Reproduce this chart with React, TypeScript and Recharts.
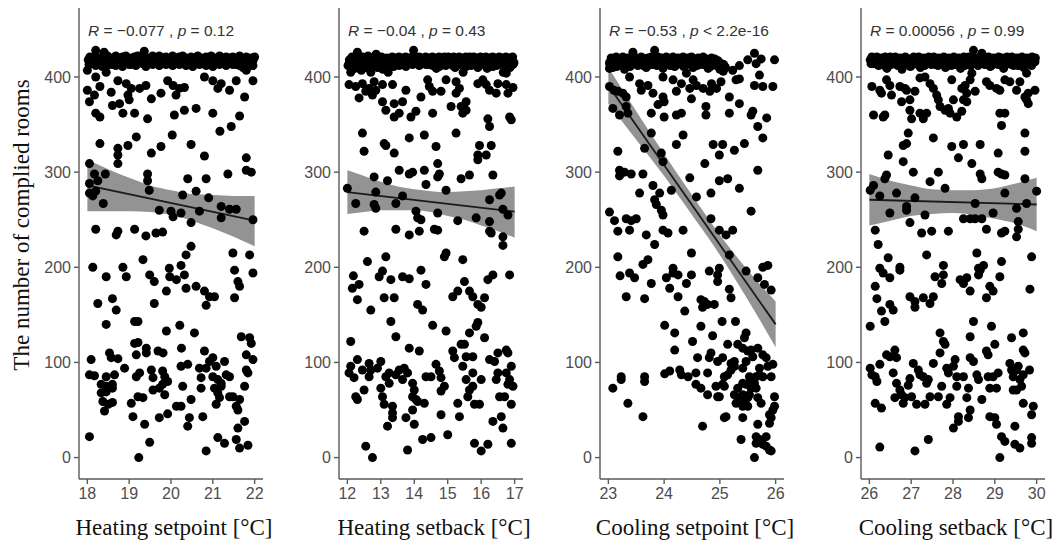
import { ComposedChart, Scatter, Line, Area, XAxis, YAxis } from "recharts";

type Pt = [number, number];
type BandPt = [number, number, number];

const yDomain: [number, number] = [-22.5, 472.5];
const yTicks = [0, 100, 200, 300, 400];
const yTitle = "The number of complied rooms";

// ---- Heating setpoint ----
const hsTicks = [18, 19, 20, 21, 22];
const hsPoints: Pt[] = [
  [18.02,418],[18.06,421],[18.1,415],[18.14,419],[18.18,422],[18.2,428],[18.24,417],[18.28,420],[18.32,414],[18.36,421],
  [18.4,426],[18.44,418],[18.48,422],[18.52,416],[18.56,420],[18.6,413],[18.64,419],[18.68,422],[18.72,417],[18.76,420],
  [18.8,415],[18.84,421],[18.88,418],[18.92,422],[18.96,416],[19.0,420],[19.04,413],[19.08,419],[19.12,421],[19.16,417],
  [19.2,422],[19.24,415],[19.28,419],[19.32,421],[19.36,427],[19.4,417],[19.44,420],[19.48,414],[19.52,419],[19.56,422],
  [19.6,416],[19.64,420],[19.68,418],[19.72,422],[19.76,415],[19.8,420],[19.84,417],[19.88,421],[19.92,419],[19.96,414],
  [20.0,420],[20.04,422],[20.08,417],[20.12,420],[20.16,415],[20.2,421],[20.24,418],[20.28,422],[20.32,416],[20.36,420],
  [20.4,413],[20.44,419],[20.48,421],[20.52,417],[20.56,420],[20.6,415],[20.64,422],[20.68,418],[20.72,420],[20.76,414],
  [20.8,419],[20.84,421],[20.88,416],[20.92,420],[20.96,422],[21.0,417],[21.04,420],[21.08,414],[21.12,419],[21.16,422],
  [21.2,416],[21.24,420],[21.28,418],[21.32,421],[21.36,415],[21.4,420],[21.44,417],[21.48,421],[21.52,419],[21.56,413],
  [21.6,420],[21.64,422],[21.68,416],[21.72,410],[21.76,419],[21.8,421],[21.84,416],[21.88,412],[21.92,420],[21.96,417],[22.0,421],
  [18.04,413],[18.12,416],[18.2,412],[18.28,415],[18.36,411],[18.44,416],[18.52,413],[18.6,417],[18.68,412],[18.76,415],
  [18.84,411],[18.92,416],[19.0,413],[19.08,417],[19.16,412],[19.24,416],[19.32,414],[19.4,411],[19.48,417],[19.56,413],
  [19.64,415],[19.72,412],[19.8,416],[19.88,413],[19.96,417],[20.04,412],[20.12,415],[20.2,413],[20.28,417],[20.36,412],
  [20.44,415],[20.52,411],[20.6,416],[20.68,413],[20.76,417],[20.84,412],[20.92,415],[21.0,411],[21.08,416],[21.16,413],
  [21.24,415],[21.32,412],[21.4,416],[21.48,413],[21.56,417],[21.64,412],[21.72,415],[21.8,413],[21.88,416],[21.96,412],
  [18.0,407],[18.2,400],[18.45,405],[18.3,390],[18.0,386],[18.17,381],[18.05,374],[18.57,384],[18.73,396],[18.93,393],
  [19.05,388],[18.97,381],[19.0,376],[18.77,372],[18.6,370],[19.13,362],[18.85,362],[18.2,362],[18.3,358],[19.25,388],
  [19.4,391],[19.53,377],[19.44,356],[19.92,396],[20.05,391],[20.2,388],[20.32,389],[20.12,381],[19.76,383],[20.08,360],
  [20.32,365],[20.6,367],[20.8,400],[21.0,396],[21.2,393],[21.12,388],[21.4,386],[21.56,396],[21.8,407],[21.96,396],
  [21.76,379],[21.0,362],[21.44,348],[21.17,343],[21.64,359],
  [18.3,330],[18.73,325],[18.97,328],[18.73,318],[18.73,309],[19.17,337],[19.53,320],[19.76,327],[20.03,339],[20.48,329],
  [20.8,317],[21.8,315],[18.05,309],[18.17,298],[18.43,298],[18.05,288],[18.25,291],[19.44,298],[19.44,291],[20.4,293],
  [20.84,293],[21.36,298],[21.8,302],[21.92,300],
  [18.05,278],[18.2,280],[18.13,275],[18.38,267],[19.48,281],[20.28,276],[20.6,280],[20.9,273],[19.72,260],[20.0,259],
  [20.05,253],[20.24,257],[20.68,259],[21.2,264],[21.4,261],[21.56,261],[21.2,252],[21.96,250],[20.48,247],[18.2,240],
  [18.73,238],[18.69,234],[19.13,240],[19.4,233],[19.8,237],[19.64,236],[20.48,222],[20.36,213],[21.48,215],[21.88,213],
  [18.13,200],[18.85,200],[19.33,208],[19.96,199],[20.24,202],
  [18.45,190],[18.93,190],[19.49,192],[19.6,185],[19.97,190],[20.13,187],[20.32,192],[20.36,178],[19.89,175],[20.6,180],
  [20.8,175],[20.92,169],[21.04,169],[20.84,160],[21.6,185],[21.64,180],[21.52,168],[21.96,194],[21.52,197],[19.6,162],
  [18.25,162],[18.6,167],[18.69,155],[18.45,140],[19.13,143],[19.21,143],[20.21,139],[20.56,131],[19.89,133],[19.13,120],
  [19.21,121],[20.25,115],[19.41,115],[19.41,110],[19.69,112],[19.81,110],[21.68,127],[21.88,126],[21.92,120],[18.09,103],
  [18.53,110],[18.57,105],[18.73,104],[19.17,108],[18.05,87],[18.17,86],[18.33,77],[18.45,75],[18.6,77],[18.45,85],
  [18.65,87],[18.89,94],[19.17,85],[19.25,89],[19.53,92],[19.57,84],[19.8,91],[19.85,85],[19.92,80],[19.8,77],
  [19.85,66],[19.72,73],[19.57,71],[19.33,63],[19.21,64],[18.37,59],[18.5,56],[18.6,58],[18.41,49],[18.33,68],
  [18.45,69],[18.6,73],[19.05,57],[19.09,43],[19.37,35],[19.49,16],[19.72,42],[19.92,46],[20.13,54],[20.24,54],
  [20.24,96],[20.4,98],[20.28,75],[20.48,61],[20.44,42],[20.4,33],[20.68,94],[20.72,84],[20.72,73],[20.84,94],
  [20.8,112],[20.92,101],[21.0,105],[21.08,96],[21.0,85],[21.12,82],[21.04,73],[21.2,78],[21.28,101],[21.32,87],
  [21.4,85],[21.2,75],[21.12,68],[21.16,63],[21.08,56],[21.48,64],[21.4,64],[21.64,61],[21.56,54],[21.6,50],
  [21.76,75],[21.8,92],[21.84,89],[21.8,108],[21.96,103],[21.76,38],[21.6,31],[21.56,19],[21.64,10],[21.84,13],
  [21.12,21],[21.28,15],[20.84,7],[19.23,0],[18.05,22],[20.76,43],
];
const hsBand: BandPt[] = [
  [18,259,313],[18.5,259,303],[19,259,294],[19.5,258,286],[20,255,281],
  [20.5,249,277],[21,241,276],[21.5,232,275],[22,222,275],
];
const hsFit: Pt[] = [[18, 286], [22, 249]];

// ---- Heating setback ----
const hbTicks = [12, 13, 14, 15, 16, 17];
const hbPoints: Pt[] = [
  [12.02,412],[12.06,418],[12.1,405],[12.14,421],[12.18,415],[12.22,409],[12.26,420],[12.3,426],[12.34,413],[12.38,418],
  [12.42,407],[12.46,421],[12.5,415],[12.54,419],[12.58,410],[12.62,422],[12.66,416],[12.7,405],[12.74,420],[12.78,413],
  [12.82,418],[12.86,424],[12.9,410],[12.94,419],[12.98,415],[13.02,421],[13.06,408],[13.1,418],[13.14,414],[13.18,420],
  [13.22,405],[13.26,419],[13.3,416],[13.34,421],[13.38,411],[13.42,418],[13.46,420],[13.5,415],[13.54,421],[13.58,417],
  [13.62,420],[13.66,414],[13.7,419],[13.74,421],[13.78,417],[13.82,420],[13.86,415],[13.9,419],[13.94,421],[13.98,428],
  [14.02,418],[14.06,420],[14.1,416],[14.14,421],[14.18,418],[14.22,420],[14.26,415],[14.3,419],[14.34,421],[14.38,417],
  [14.42,420],[14.46,413],[14.5,419],[14.54,421],[14.58,416],[14.62,420],[14.66,409],[14.7,419],[14.74,421],[14.78,415],
  [14.82,420],[14.86,418],[14.9,421],[14.94,412],[14.98,419],[15.02,421],[15.06,416],[15.1,420],[15.14,418],[15.18,421],
  [15.22,410],[15.26,419],[15.3,416],[15.34,421],[15.38,418],[15.42,420],[15.46,405],[15.5,418],[15.54,421],[15.58,416],
  [15.62,419],[15.66,421],[15.7,412],[15.74,418],[15.78,421],[15.82,416],[15.86,420],[15.9,410],[15.94,418],[15.98,421],
  [16.02,415],[16.06,420],[16.1,418],[16.14,421],[16.18,409],[16.22,418],[16.26,420],[16.3,415],[16.34,421],[16.38,418],
  [16.42,420],[16.46,412],[16.5,419],[16.54,421],[16.58,416],[16.62,420],[16.66,405],[16.7,418],[16.74,421],[16.78,415],
  [16.82,420],[16.86,410],[16.9,418],[16.94,421],[16.98,415],
  [12.05,414],[12.15,410],[12.25,416],[12.35,409],[12.45,414],[12.55,411],[12.65,417],[12.75,410],[12.85,415],[12.95,412],
  [13.05,416],[13.15,409],[13.25,414],[13.35,411],[13.45,416],[13.55,412],[13.65,417],[13.75,411],[13.85,415],[13.95,413],
  [14.05,416],[14.15,412],[14.25,417],[14.35,413],[14.45,416],[14.55,412],[14.65,415],[14.75,411],[14.85,416],[14.95,413],
  [15.05,417],[15.15,412],[15.25,415],[15.35,413],[15.45,416],[15.55,411],[15.65,415],[15.75,413],[15.85,416],[15.95,412],
  [16.05,415],[16.15,413],[16.25,416],[16.35,411],[16.45,415],[16.55,413],[16.65,416],[16.75,412],[16.85,415],[16.95,413],
  [12.05,392],[12.25,390],[12.35,378],[12.45,393],[12.55,385],[12.65,388],[12.75,381],[12.8,395],[12.85,386],[13.05,392],
  [13.05,374],[13.15,365],[13.35,392],[13.4,372],[13.4,358],[13.55,362],[13.65,374],[13.75,386],[13.9,358],[14.05,364],
  [14.2,379],[14.4,397],[14.45,390],[14.55,385],[14.55,362],[14.8,385],[14.95,397],[15.1,369],[15.25,395],[15.35,388],
  [15.4,369],[15.45,362],[15.55,365],[15.55,374],[15.25,383],[15.9,393],[16.05,397],[16.15,392],[16.25,386],[16.45,383],
  [16.5,393],[16.75,392],[16.8,383],[16.75,404],[16.95,389],[16.2,356],[16.25,348],[16.9,355],[16.85,358],
  [12.45,341],[13.1,330],[13.15,328],[13.4,320],[12.5,322],[13.85,336],[14.3,339],[14.65,327],[15.25,341],[15.95,328],
  [16.3,328],[16.15,318],[15.9,318],[15.9,313],[14.7,309],[12.8,295],[13.2,291],[13.55,302],[13.85,298],[13.95,300],
  [14.3,302],[14.75,298],[14.7,295],[15.4,293],[15.65,297],[16.35,297],
  [12.0,283],[12.25,267],[12.85,279],[12.8,266],[12.85,262],[13.45,267],[13.65,275],[14.35,287],[14.95,281],[14.05,259],
  [14.1,252],[14.2,250],[14.7,257],[15.3,249],[15.85,252],[16.25,271],[16.55,276],[16.6,278],[16.65,261],[16.8,255],
  [16.25,248],[16.25,238],[16.3,236],[16.65,232],[16.65,223],[12.5,238],[13.45,240],[13.85,234],[14.15,238],[14.6,240],
  [14.7,239],[14.95,215],[14.9,211],[15.45,208],[12.6,206],[13.15,211],
  [12.18,191],[12.15,178],[12.35,182],[12.3,166],[12.7,155],[12.95,190],[13.05,196],[13.3,187],[13.1,168],[13.4,168],
  [13.3,143],[13.45,127],[13.65,190],[13.85,188],[14.2,197],[14.35,182],[14.1,161],[14.25,155],[14.55,139],[14.95,133],
  [15.15,169],[15.3,175],[15.5,185],[15.65,175],[15.75,169],[15.9,161],[16.0,158],[16.1,168],[16.2,187],[16.35,192],
  [16.85,192],[15.9,142],[15.85,138],[15.65,131],[16.1,126],[12.1,122],[12.3,103],[12.05,89],[12.2,84],[12.1,96],
  [12.25,64],[12.3,61],[12.45,92],[12.5,71],[12.65,99],[12.65,85],[12.7,92],[12.9,94],[13.0,101],[13.0,73],
  [13.05,64],[13.15,85],[13.25,89],[13.1,56],[13.25,78],[13.35,54],[13.35,47],[13.35,42],[13.2,33],[13.45,87],
  [13.55,92],[13.65,82],[13.7,94],[13.8,89],[13.75,42],[13.8,8],[13.85,115],[13.95,78],[13.95,64],[14.0,71],
  [14.05,61],[13.95,50],[14.0,35],[14.15,112],[14.1,59],[14.3,57],[14.25,19],[14.35,85],[14.5,85],[14.5,21],
  [14.65,98],[14.75,91],[14.8,84],[14.8,70],[14.9,75],[14.8,45],[15.0,24],[15.15,112],[15.2,105],[15.3,57],
  [15.35,43],[15.4,119],[15.5,119],[15.45,96],[15.55,106],[15.75,106],[15.55,82],[15.6,64],[15.65,71],[15.75,75],
  [15.75,89],[15.8,56],[15.95,56],[15.8,15],[16.0,7],[16.2,14],[16.0,82],[16.25,103],[16.35,38],[16.4,101],
  [16.45,82],[16.5,110],[16.55,64],[16.5,89],[16.65,31],[16.6,43],[16.7,64],[16.75,113],[16.8,110],[16.75,89],
  [16.8,77],[16.85,82],[16.9,96],[16.95,75],[16.9,56],[16.9,15],[12.55,12],[12.75,0],
];
const hbBand: BandPt[] = [
  [12,256,302],[12.5,258,296],[13,260,290],[13.5,260,285],[14,260,282],[14.5,258,280],
  [15,254,279],[15.5,250,280],[16,244,281],[16.5,238,283],[17,231,285],
];
const hbFit: Pt[] = [[12, 279], [17, 258.5]];

// ---- Cooling setpoint ----
const csTicks = [23, 24, 25, 26];
const csPoints: Pt[] = [
  [23.02,415],[23.05,420],[23.08,410],[23.11,418],[23.14,421],[23.17,413],[23.2,419],[23.23,416],[23.26,421],[23.29,408],
  [23.32,418],[23.35,420],[23.38,414],[23.41,419],[23.44,426],[23.47,416],[23.5,420],[23.53,412],[23.56,418],[23.59,421],
  [23.62,415],[23.65,419],[23.68,410],[23.71,420],[23.74,417],[23.77,421],[23.8,413],[23.83,428],[23.86,418],[23.89,421],
  [23.92,415],[23.95,420],[23.98,409],[24.01,418],[24.04,421],[24.07,414],[24.1,419],[24.13,416],[24.16,421],[24.19,411],
  [24.22,418],[24.25,420],[24.28,415],[24.31,419],[24.34,421],[24.37,412],[24.4,418],[24.43,420],[24.46,416],[24.49,421],
  [24.52,410],[24.55,419],[24.58,416],[24.61,420],[24.64,413],[24.67,418],[24.7,421],[24.73,415],[24.76,419],[24.79,409],
  [24.82,418],[24.85,420],[24.88,414],[24.91,419],[24.94,412],[24.97,417],[25.0,408],[25.03,414],[25.06,406],[25.1,410],
  [23.03,413],[23.09,416],[23.15,411],[23.21,415],[23.27,413],[23.33,416],[23.39,411],[23.45,415],[23.51,413],[23.57,416],
  [23.63,412],[23.69,415],[23.75,413],[23.81,417],[23.87,412],[23.93,415],[23.99,413],[24.05,416],[24.11,412],[24.17,415],
  [24.23,413],[24.29,416],[24.35,411],[24.41,415],[24.47,413],[24.53,416],[24.59,412],[24.65,415],[24.71,413],[24.77,416],
  [24.83,411],[24.89,415],[24.95,413],[25.01,411],[25.07,413],
  [23.02,409],[23.02,390],[23.1,386],[23.17,385],[23.26,383],[23.32,379],[23.08,367],[23.2,360],[23.32,369],[23.35,362],
  [23.38,400],[23.56,393],[23.59,386],[23.71,391],[23.8,383],[23.98,379],[24.0,374],[23.89,371],[23.77,362],[24.0,358],
  [24.22,360],[24.31,362],[23.98,400],[24.16,397],[24.31,393],[24.46,388],[24.58,391],[24.7,388],[24.82,385],[24.94,388],
  [25.02,395],[24.85,393],[24.52,397],[24.4,404],[24.22,385],[24.49,377],[24.75,369],[24.75,360],[25.17,379],[25.17,362],
  [25.35,372],[25.29,397],[25.35,398],[25.23,407],[25.35,412],[25.5,418],[25.62,425],[25.65,414],[25.74,419],[25.71,402],
  [25.62,391],[25.77,390],[25.95,390],[25.98,418],[25.56,360],[25.59,364],[25.68,348],[25.84,357],[25.77,336],[25.44,330],
  [25.26,323],[24.88,329],[25.05,329],[24.99,318],[24.34,339],[24.22,329],[23.77,341],[23.65,325],[23.17,322],[23.95,320],
  [23.98,311],[24.73,309],[24.99,291],[25.14,293],[25.35,283],[25.68,302],[25.56,259],[23.2,302],[23.2,296],[23.29,300],
  [23.41,298],[23.62,298],[23.56,278],[23.8,286],[23.92,278],[24.13,281],[23.83,271],[23.86,266],[23.95,260],[23.98,255],
  [24.46,294],[24.58,274],[24.84,278],[23.02,258],[23.11,249],[23.32,251],[23.41,249],[23.5,251],[23.38,239],[23.17,238],
  [23.98,239],[24.07,236],[24.34,239],[23.68,234],[23.83,224],[24.84,251],[24.99,239],[25.11,234],[25.23,239],[24.49,215],
  [25.17,213],[23.17,211],[23.71,208],[23.62,203],[24.16,199],[24.99,199],[25.77,200],[25.86,202],
  [23.21,191],[23.38,194],[23.47,189],[23.32,169],[23.65,167],[23.77,183],[24.04,189],[24.1,178],[24.16,194],[24.25,192],
  [24.25,169],[24.4,183],[24.49,192],[24.37,154],[24.66,166],[24.72,164],[24.69,158],[24.78,161],[24.9,161],[24.81,196],
  [24.96,192],[24.96,185],[25.17,177],[25.2,168],[25.47,196],[25.68,189],[25.8,182],[25.92,176],[24.01,139],[24.66,138],
  [24.19,131],[24.19,113],[24.51,122],[25.04,143],[25.28,143],[24.87,128],[25.47,131],[25.44,126],[25.14,119],[25.32,119],
  [25.41,115],[25.5,112],[25.56,113],[25.59,106],[25.68,115],[25.77,108],[25.83,105],[25.86,96],[25.95,98],[25.92,85],
  [25.71,87],[25.71,94],[25.47,101],[25.41,94],[25.53,85],[25.59,82],[25.65,85],[25.77,85],[25.62,78],[25.65,73],
  [25.56,73],[25.47,77],[25.41,78],[25.32,73],[25.26,66],[25.32,63],[25.29,57],[25.41,59],[25.5,63],[25.5,54],
  [25.53,66],[25.41,66],[25.41,54],[25.26,96],[25.2,92],[25.14,87],[25.08,85],[25.2,99],[25.26,101],[25.05,105],
  [24.96,101],[24.84,110],[24.81,105],[24.6,105],[24.57,89],[24.57,77],[24.66,73],[24.78,66],[24.78,89],[24.93,75],
  [24.99,64],[24.96,64],[25.08,75],[25.11,43],[25.08,42],[25.41,42],[25.38,19],[25.68,63],[25.74,57],[25.68,35],
  [25.65,22],[25.65,15],[25.71,19],[25.77,14],[25.83,22],[25.83,12],[25.89,8],[25.92,7],[25.89,36],[25.92,42],
  [25.95,50],[25.98,54],[25.98,64],[25.89,45],[25.62,0],[23.08,73],[23.23,85],[23.23,82],[23.35,57],[23.65,85],
  [23.65,80],[23.62,43],[24.01,88],[24.1,91],[24.28,92],[24.31,87],[24.43,85],[24.69,33],[25.05,77],
];
const csBand: BandPt[] = [
  [23,372,410],[23.5,334,364],[24,296,319],[24.5,255,276],[25,213,234],[25.5,166,197],[26,116,164],
];
const csFit: Pt[] = [[23, 391], [26, 140]];

// ---- Cooling setback ----
const cbTicks = [26, 27, 28, 29, 30];
const cbPoints: Pt[] = [
  [26.02,418],[26.06,421],[26.1,414],[26.14,419],[26.18,421],[26.22,412],[26.26,418],[26.3,420],[26.34,415],[26.38,421],
  [26.42,409],[26.46,418],[26.5,421],[26.54,415],[26.58,419],[26.62,421],[26.66,413],[26.7,418],[26.74,420],[26.78,408],
  [26.82,419],[26.86,421],[26.9,415],[26.94,419],[26.98,411],[27.02,418],[27.06,421],[27.1,415],[27.14,419],[27.18,421],
  [27.22,410],[27.26,418],[27.3,420],[27.34,414],[27.38,419],[27.42,421],[27.46,416],[27.5,419],[27.54,421],[27.58,413],
  [27.62,418],[27.66,420],[27.7,415],[27.74,419],[27.78,421],[27.82,410],[27.86,418],[27.9,420],[27.94,415],[27.98,419],
  [28.02,421],[28.06,413],[28.1,418],[28.14,420],[28.18,409],[28.22,418],[28.26,421],[28.3,415],[28.34,419],[28.38,421],
  [28.42,412],[28.46,418],[28.49,428],[28.53,420],[28.57,414],[28.61,419],[28.65,421],[28.69,425],[28.73,416],[28.77,420],
  [28.81,418],[28.85,421],[28.89,411],[28.93,418],[28.97,420],[29.01,414],[29.05,419],[29.09,421],[29.13,416],[29.17,420],
  [29.21,409],[29.25,418],[29.29,421],[29.33,415],[29.37,419],[29.41,421],[29.45,412],[29.49,418],[29.53,420],[29.57,415],
  [29.61,419],[29.65,421],[29.69,410],[29.73,418],[29.77,420],[29.81,414],[29.85,419],[29.89,421],[29.93,416],[29.97,420],
  [26.04,414],[26.12,416],[26.2,413],[26.28,415],[26.36,412],[26.44,416],[26.52,413],[26.6,415],[26.68,412],[26.76,416],
  [26.84,413],[26.92,415],[27.0,412],[27.08,416],[27.16,413],[27.24,415],[27.32,412],[27.4,416],[27.48,413],[27.56,415],
  [27.64,412],[27.72,416],[27.8,413],[27.88,415],[27.96,412],[28.04,416],[28.12,413],[28.2,415],[28.28,412],[28.36,416],
  [28.44,413],[28.52,415],[28.6,412],[28.68,416],[28.76,413],[28.84,415],[28.92,412],[29.0,416],[29.08,413],[29.16,415],
  [29.24,412],[29.32,416],[29.4,413],[29.48,415],[29.56,412],[29.64,416],[29.72,413],[29.8,415],[29.88,412],[29.96,416],
  [26.06,390],[26.25,386],[26.29,383],[26.41,397],[26.49,391],[26.53,381],[26.73,390],[26.77,374],[26.85,388],[26.89,386],
  [27.09,385],[26.97,376],[27.21,399],[27.33,400],[27.45,393],[27.53,388],[27.61,381],[27.65,376],[27.69,369],[27.81,365],
  [27.89,367],[27.93,362],[28.09,358],[28.01,376],[28.21,364],[28.25,376],[28.21,388],[28.29,391],[27.97,397],[28.41,397],
  [28.45,404],[28.33,383],[28.33,374],[28.53,385],[28.8,395],[28.88,391],[29.04,388],[29.12,386],[29.24,397],[29.36,395],
  [29.52,386],[29.6,395],[29.72,379],[29.76,376],[29.8,372],[29.8,383],[29.76,404],[29.96,386],[26.1,360],[26.33,358],
  [26.37,360],[27.21,362],[27.29,356],[27.37,362],[27.01,356],[26.97,365],[29.12,362],[29.24,362],[29.16,349],[26.93,341],
  [26.89,330],[26.81,328],[27.53,336],[26.45,318],[26.81,311],[26.41,297],[26.37,293],[27.05,300],[27.45,290],[27.65,300],
  [27.97,327],[28.13,315],[28.25,329],[28.45,309],[28.65,329],[28.65,298],[28.69,293],[29.08,320],[29.08,300],[29.16,298],
  [29.24,297],[29.72,341],[29.72,322],[29.72,293],[26.02,281],[26.1,286],[26.25,275],[26.65,278],[26.49,257],[26.89,264],
  [26.89,260],[27.09,273],[27.33,255],[27.81,283],[28.53,267],[29.24,278],[28.96,257],[30.0,280],[29.76,267],[29.52,262],
  [29.56,248],[29.56,240],[29.52,232],[29.16,236],[29.24,238],[28.8,240],[28.25,251],[28.41,251],[28.53,251],[28.69,251],
  [26.97,247],[26.14,239],[26.21,224],[27.25,236],[27.49,238],[27.89,238],[26.45,210],[27.37,213],[28.57,215],[29.88,211],
  [26.25,199],[26.73,200],[27.77,202],[28.73,202],[29.16,206],[28.61,199],
  [26.33,194],[26.49,189],[26.73,197],[26.14,180],[26.18,167],[26.29,154],[26.37,143],[26.02,138],[26.49,161],[26.57,155],
  [26.97,169],[27.09,164],[27.09,158],[27.29,168],[27.45,162],[27.53,169],[27.57,190],[27.73,183],[27.77,192],[28.17,187],
  [28.25,183],[28.33,189],[28.41,175],[28.61,192],[28.65,197],[28.8,168],[28.88,180],[28.96,175],[29.12,190],[29.84,177],
  [26.25,98],[26.02,94],[26.06,87],[26.14,85],[26.18,80],[26.14,57],[26.29,52],[26.41,108],[26.49,106],[26.61,113],
  [26.65,105],[26.57,89],[26.65,78],[26.61,63],[26.73,71],[26.77,66],[26.85,63],[26.81,57],[26.93,76],[26.97,83],
  [27.01,64],[27.05,99],[27.17,92],[27.21,87],[27.13,56],[27.29,85],[27.37,78],[27.41,82],[27.33,56],[27.45,64],
  [27.53,99],[27.41,19],[27.09,7],[26.25,11],[27.65,64],[27.69,110],[27.73,75],[27.77,122],[27.81,119],[27.69,131],
  [27.85,94],[27.89,89],[27.85,56],[28.01,96],[28.05,103],[27.93,63],[28.01,31],[28.09,85],[28.09,75],[28.13,43],
  [28.13,38],[28.25,85],[28.33,63],[28.37,73],[28.37,42],[28.41,50],[28.41,127],[28.49,143],[28.41,105],[28.49,101],
  [28.57,87],[28.61,82],[28.69,61],[28.8,112],[28.84,108],[28.84,85],[28.88,73],[28.92,138],[29.0,119],[28.96,85],
  [29.04,73],[29.08,89],[28.88,43],[29.0,42],[29.04,35],[29.16,22],[29.24,17],[29.12,0],[29.4,126],[29.36,99],
  [29.4,92],[29.44,85],[29.44,71],[29.48,33],[29.48,14],[29.52,92],[29.6,82],[29.56,96],[29.52,71],[29.64,75],
  [29.6,10],[29.68,131],[29.68,113],[29.72,110],[29.68,87],[29.68,57],[29.83,92],[29.88,45],[29.92,54],[29.88,21],[29.88,15],
];
const cbBand: BandPt[] = [
  [26,244,298],[26.5,249,291],[27,254,286],[27.5,256,282],[28,257,281],
  [28.5,255,281],[29,251,283],[29.5,246,288],[30,238,294],
];
const cbFit: Pt[] = [[26, 271], [30, 266]];

const tickFont = "'Liberation Sans', Arial, sans-serif";
const titleFont = "'Liberation Serif', 'Times New Roman', serif";
const axisStroke = "#5a5a5a";

const Dot = (props: any) => <circle cx={props.cx} cy={props.cy} r={4.5} fill="#000" />;

type PanelProps = {
  axisX: number;
  points: Pt[];
  band: BandPt[];
  fit: Pt[];
  ticks: number[];
  title: string;
  r: string;
  pText: string;
};

const Y_AXIS_W = 45;
const PLOT_W = 184;
const RIGHT = 6;

function Panel({ axisX, points, band, fit, ticks }: PanelProps) {
  const lo = ticks[0];
  const hi = ticks[ticks.length - 1];
  const pad = (hi - lo) * 0.05;
  const scatterData = points.map(([x, y]) => ({ x, y }));
  const bandData = band.map(([x, l, h]) => ({ x, ci: [l, h] }));
  const fitData = fit.map(([x, y]) => ({ x, y }));
  const axisLine = { stroke: axisStroke, strokeWidth: 1.4 };
  const tick = { fill: "#4d4d4d", fontSize: 16, fontFamily: tickFont };

  return (
    <div style={{ position: "absolute", left: axisX - Y_AXIS_W, top: 0 }}>
      <ComposedChart
        width={Y_AXIS_W + PLOT_W + RIGHT}
        height={509}
        margin={{ top: 8, right: RIGHT, bottom: 0, left: 0 }}
      >
        <XAxis
          type="number"
          dataKey="x"
          domain={[lo - pad, hi + pad]}
          ticks={ticks}
          allowDataOverflow
          height={30}
          tickSize={5}
          tickMargin={4}
          axisLine={axisLine}
          tickLine={axisLine}
          tick={tick}
        />
        <YAxis
          type="number"
          dataKey="y"
          domain={yDomain}
          ticks={yTicks}
          allowDataOverflow
          width={Y_AXIS_W}
          tickSize={5}
          tickMargin={3}
          axisLine={axisLine}
          tickLine={axisLine}
          tick={tick}
        />
        <Area
          data={bandData}
          dataKey="ci"
          type="monotone"
          fill="#939393"
          fillOpacity={1}
          stroke="none"
          isAnimationActive={false}
        />
        <Scatter data={scatterData} dataKey="y" shape={Dot} isAnimationActive={false} />
        <Line
          data={fitData}
          dataKey="y"
          stroke="#1a1a1a"
          strokeWidth={1.8}
          dot={false}
          isAnimationActive={false}
        />
      </ComposedChart>
    </div>
  );
}

const panels: PanelProps[] = [
  { axisX: 79, points: hsPoints, band: hsBand, fit: hsFit, ticks: hsTicks, title: "Heating setpoint [°C]", r: "−0.077", pText: "= 0.12" },
  { axisX: 339, points: hbPoints, band: hbBand, fit: hbFit, ticks: hbTicks, title: "Heating setback [°C]", r: "−0.04", pText: "= 0.43" },
  { axisX: 600, points: csPoints, band: csBand, fit: csFit, ticks: csTicks, title: "Cooling setpoint [°C]", r: "−0.53", pText: "< 2.2e-16" },
  { axisX: 861, points: cbPoints, band: cbBand, fit: cbFit, ticks: cbTicks, title: "Cooling setback [°C]", r: "0.00056", pText: "= 0.99" },
];

export default function App() {
  return (
    <div style={{ position: "absolute", left: 0, top: 0, width: 1058, height: 543, background: "#fff" }}>
      {panels.map((p) => (
        <Panel key={p.title} {...p} />
      ))}
      <svg width={1058} height={543} style={{ position: "absolute", left: 0, top: 0, pointerEvents: "none" }}>
        <text
          transform="translate(21,225) rotate(-90)"
          textAnchor="middle"
          dominantBaseline="central"
          fontFamily={titleFont}
          fontSize={23}
          fill="#111"
        >
          {yTitle}
        </text>
        {panels.map((p) => (
          <g key={p.title}>
            <text x={p.axisX + 95} y={535} textAnchor="middle" fontFamily={titleFont} fontSize={23} fill="#111">
              {p.title}
            </text>
            <text x={p.axisX + 9} y={36} fontFamily={tickFont} fontSize={15.5} fill="#333">
              <tspan fontStyle="italic">R</tspan>
              {` = ${p.r} , `}
              <tspan fontStyle="italic">p</tspan>
              {` ${p.pText}`}
            </text>
          </g>
        ))}
      </svg>
    </div>
  );
}
